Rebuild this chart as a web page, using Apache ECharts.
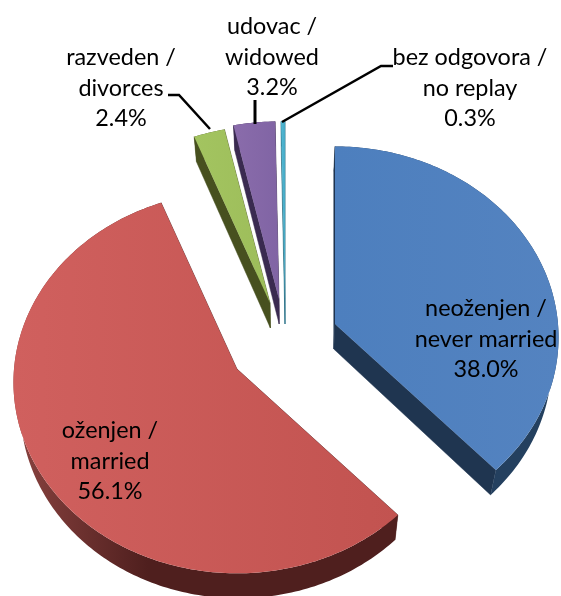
<!DOCTYPE html>
<html>
<head>
<meta charset="utf-8">
<style>html,body{margin:0;padding:0;background:#fff}#c{width:561px;height:596px}</style>
<script src="https://cdn.jsdelivr.net/npm/echarts@6/dist/echarts.min.js"></script>
</head>
<body>
<div id="c"></div>
<script>
// Data
const categories = ['neoženjen /\nnever married', 'oženjen /\nmarried', 'razveden /\ndivorces', 'udovac /\nwidowed', 'bez odgovora /\nno replay'];
const values = [38.0, 56.1, 2.4, 3.2, 0.3];

// Layout and style, per slice
const apexes = [[335, 324], [237, 369], [270, 303], [279, 299], [285, 299]];
const labelAt = [[486, 339], [110, 461], [121, 88], [272, 57], [470, 88]];
const topColors = [['#4d7fbe', '#5483c0'], ['#d0605e', '#c25350'], ['#a3c460', '#9dbd5a'], ['#8a6cab', '#8064a4'], ['#55bcd6', '#44a8c4']];
const cutColors = ['#1f3550', '#4f1f1e', '#47501f', '#3a2a50', '#1f6a80'];
const wallColors = [['#1f3550', '#24405f'], ['#8a4340', '#4f1f1e'], ['#47501f', '#47501f'], ['#3a2a50', '#3a2a50'], ['#1f6a80', '#1f6a80']];
const leaders = [null, null, [[168, 95], [179, 95], [210, 129]], [[255, 100], [255, 124]], [[282, 122], [381, 66], [393, 66]]];
const drawOrder = [1, 0, 4, 3, 2];

const RX = 223, RY = 190, PERSP = 0.07, DEPTH = 25, VANISH_X = 285, SHRINK = 0.975;
const total = values.reduce((s, v) => s + v, 0);

function project(apex, deg) {
  const t = deg * Math.PI / 180, d = 1 / (1 + PERSP * Math.cos(t));
  return [apex[0] + RX * Math.sin(t) * d, apex[1] - RY * Math.cos(t) * d];
}
function drop(p) {
  return [VANISH_X + (p[0] - VANISH_X) * SHRINK, p[1] + DEPTH];
}
function sliceChildren(i) {
  let start = 0;
  for (let k = 0; k < i; k++) start += values[k] / total * 360;
  const end = start + values[i] / total * 360;
  const apex = apexes[i];
  const arc = [];
  const n = Math.max(2, Math.ceil(end - start));
  for (let k = 0; k <= n; k++) arc.push(project(apex, start + (end - start) * k / n));
  const outline = [apex].concat(arc);
  const kids = [];
  const cut = a => ({ type: 'polygon', shape: { points: [a[0], a[1], drop(a[1]), drop(a[0])] },
    style: { fill: cutColors[i], stroke: cutColors[i], lineWidth: 0.5 } });
  kids.push(cut([apex, arc[0]]));
  kids.push(cut([apex, arc[arc.length - 1]]));
  const wall = arc.concat(arc.slice().reverse().map(drop));
  kids.push({ type: 'polygon', shape: { points: wall },
    style: { fill: { type: 'linear', x: 0, y: 0, x2: 1, y2: 0,
      colorStops: [{ offset: 0, color: wallColors[i][0] }, { offset: 0.35, color: wallColors[i][1] }, { offset: 1, color: wallColors[i][1] }] },
      stroke: 'none' } });
  kids.push({ type: 'polygon', shape: { points: outline },
    style: { fill: { type: 'linear', x: 0, y: 0, x2: 1, y2: 0,
      colorStops: [{ offset: 0, color: topColors[i][0] }, { offset: 1, color: topColors[i][1] }] } } });
  return kids;
}

const option = {
  backgroundColor: '#fff',
  animation: false,
  series: [{
    type: 'custom',
    coordinateSystem: 'none',
    data: drawOrder.map(i => [i, values[i]]),
    silent: true,
    renderItem: function (params, api) {
      const i = api.value(0);
      return { type: 'group', children: sliceChildren(i) };
    }
  }, {
    type: 'custom',
    coordinateSystem: 'none',
    z: 5,
    data: categories.map((c, i) => [i, values[i]]),
    silent: true,
    renderItem: function (params, api) {
      const i = api.value(0), kids = [];
      if (leaders[i]) kids.push({ type: 'polyline', shape: { points: leaders[i] },
        style: { fill: 'none', stroke: '#000', lineWidth: i === 3 ? 3 : 2.5 } });
      kids.push({ type: 'text', x: labelAt[i][0], y: labelAt[i][1],
        style: { text: categories[i] + '\n' + values[i].toFixed(1) + '%', fill: '#000',
          font: '23.4px Lato, "Open Sans", sans-serif', lineHeight: 30.8, align: 'center', verticalAlign: 'middle' } });
      return { type: 'group', children: kids };
    }
  }]
};
echarts.init(document.getElementById('c'), null, { renderer: 'canvas' }).setOption(option);
</script>
</body>
</html>
